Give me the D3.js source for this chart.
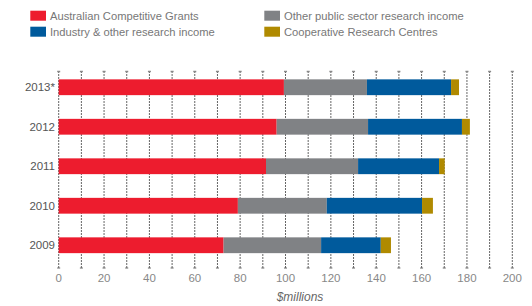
<!DOCTYPE html>
<html><head><meta charset="utf-8">
<script src="https://cdn.jsdelivr.net/npm/d3@7"></script>
<style>body{margin:0;background:#fff;} svg{display:block;font-family:"Helvetica Neue",Helvetica,"Liberation Sans",Arial,sans-serif;}</style>
</head><body>
<svg id="c" width="532" height="306"></svg>
<script>
const years = ["2013*", "2012", "2011", "2010", "2009"];
const seriesNames = ["Australian Competitive Grants", "Other public sector research income", "Industry & other research income", "Cooperative Research Centres"];
const competitiveGrants = [99.3, 96.1, 91.4, 79.0, 72.7];
const otherPublic = [36.6, 40.3, 40.6, 39.2, 43.0];
const industryOther = [37.1, 41.4, 35.7, 42.0, 26.3];
const crc = [3.5, 3.5, 2.5, 4.8, 4.5];
const xTicks = [0, 20, 40, 60, 80, 100, 120, 140, 160, 180, 200];
const colors = ["#ED1C2E", "#808285", "#005A9C", "#B08A00"];

const svg = d3.select("#c");
const x = d3.scaleLinear().domain([0, 200]).range([58.7, 512.3]);
const y = d3.scaleBand().domain(years).range([67.5, 265]).paddingInner(0.6).paddingOuter(0.3);

const table = years.map((yr, i) => ({year: yr, s0: competitiveGrants[i], s1: otherPublic[i], s2: industryOther[i], s3: crc[i]}));
const stack = d3.stack().keys(["s0", "s1", "s2", "s3"])(table);

// gridlines
const gridVals = d3.range(0, 201, 10);
const g = svg.append("g");
g.selectAll("line.grid").data(gridVals).join("line")
  .attr("x1", d => x(d)).attr("x2", d => x(d))
  .attr("y1", 71).attr("y2", 268.5)
  .attr("stroke", "#666").attr("stroke-width", 1).attr("stroke-dasharray", "2,1");
g.selectAll("line.cap").data(gridVals).join("line")
  .attr("x1", d => x(d) - 1.5).attr("x2", d => x(d) + 1.5)
  .attr("y1", 71.5).attr("y2", 71.5)
  .attr("stroke", "#888").attr("stroke-width", 1.5);
g.selectAll("line.bcap").data(gridVals).join("line")
  .attr("x1", d => x(d) - 1.5).attr("x2", d => x(d) + 1.5)
  .attr("y1", 268).attr("y2", 268)
  .attr("stroke", "#666").attr("stroke-width", 1);

// bars
svg.append("g").selectAll("g").data(stack).join("g")
  .attr("fill", (d, i) => colors[i])
  .selectAll("rect").data(d => d).join("rect")
  .attr("x", d => x(d[0])).attr("width", d => x(d[1]) - x(d[0]))
  .attr("y", d => y(d.data.year)).attr("height", y.bandwidth());

// y labels
svg.append("g").selectAll("text").data(years).join("text")
  .attr("x", 55).attr("y", d => y(d) + y.bandwidth() / 2 + 4)
  .attr("text-anchor", "end").attr("font-size", 11.5).attr("fill", "#555")
  .text(d => d);

// x labels
svg.append("g").selectAll("text").data(xTicks).join("text")
  .attr("x", d => x(d)).attr("y", 281.5)
  .attr("text-anchor", "middle").attr("font-size", 11.5).attr("fill", "#888")
  .text(d => d);

svg.append("text").attr("x", 300).attr("y", 301)
  .attr("text-anchor", "middle").attr("font-size", 12).attr("font-style", "italic").attr("fill", "#666")
  .text("$millions");

// legend
const legPos = [[30.3, 10.7], [264.3, 10.7], [30.3, 26.7], [264.3, 26.7]];
const order = [0, 1, 2, 3];
const leg = svg.append("g").selectAll("g").data(order).join("g")
  .attr("transform", d => `translate(${legPos[d][0]},${legPos[d][1]})`);
leg.append("rect").attr("width", 15.7).attr("height", 10).attr("fill", d => colors[d]);
leg.append("text").attr("x", 19.7).attr("y", 9.5).attr("font-size", 11.2).attr("fill", "#777")
  .text(d => seriesNames[d]);
</script>
</body></html>
